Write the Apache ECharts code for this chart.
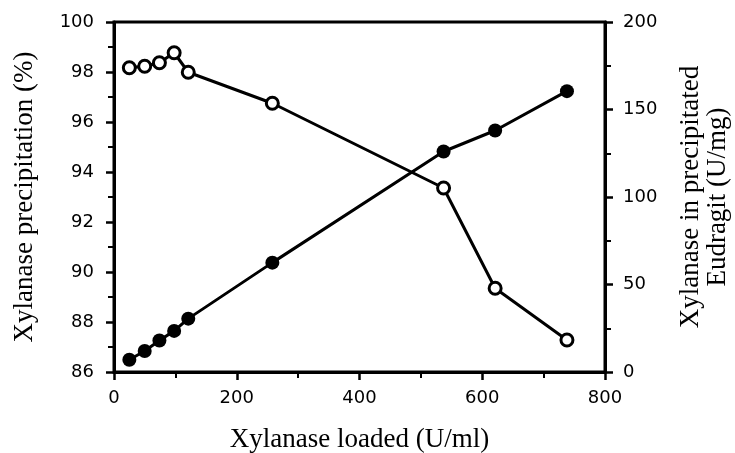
<!DOCTYPE html>
<html>
<head>
<meta charset="utf-8">
<script src="https://cdn.jsdelivr.net/npm/echarts@6/dist/echarts.min.js"></script>
<style>
  html, body { margin: 0; padding: 0; background: #fff; }
  #chart { width: 735px; height: 453px; }
</style>
</head>
<body>
<div id="chart"></div>
<script>
// xylanase loaded (U/ml)
const loaded = [25, 50, 74, 98, 121, 258, 537, 621, 738]
// open circles, left axis (%)
const precipitation = [98.17, 98.23, 98.37, 98.77, 97.99, 96.75, 93.36, 89.35, 87.28]
// filled circles, right axis (U/mg)
const activity = [7, 12, 18, 23.5, 30.5, 62.5, 126, 138, 160.5]

const chart = echarts.init(document.getElementById('chart'))

const tickFont = { color: '#000', fontSize: 18, fontFamily: 'DejaVu Sans' }
const titleFont = { color: '#000', fontSize: 27, fontFamily: 'Liberation Serif' }
const axisLine = { show: true, lineStyle: { color: '#000', width: 3 } }
const tick = { length: 8, lineStyle: { color: '#000', width: 2.5 } }
const minor = { show: true, splitNumber: 2, length: 6, lineStyle: { color: '#000', width: 2 } }

const option = {
  animation: false,
  backgroundColor: '#fff',
  grid: {
    left: 114, right: 130, top: 22, bottom: 81,
    outerBoundsMode: 'none',
    show: true, borderColor: '#000', borderWidth: 3
  },
  xAxis: {
    type: 'value',
    min: 0, max: 800, interval: 200,
    name: 'Xylanase loaded (U/ml)',
    nameLocation: 'middle',
    nameGap: 54,
    nameTextStyle: titleFont,
    axisLine: axisLine,
    axisTick: tick,
    minorTick: minor,
    axisLabel: Object.assign({ margin: 17 }, tickFont),
    splitLine: { show: false }
  },
  yAxis: [
    {
      type: 'value',
      min: 86, max: 100, interval: 2,
      name: 'Xylanase precipitation (%)',
      nameLocation: 'middle',
      nameRotate: 90,
      nameGap: 76,
      nameTextStyle: titleFont,
      axisLine: axisLine,
      axisTick: tick,
      minorTick: minor,
      axisLabel: Object.assign({ margin: 20 }, tickFont),
      splitLine: { show: false }
    },
    {
      type: 'value',
      position: 'right',
      min: 0, max: 200, interval: 50,
      name: 'Xylanase in precipitated\nEudragit (U/mg)',
      nameLocation: 'middle',
      nameRotate: 90,
      nameGap: 72,
      nameTextStyle: Object.assign({ lineHeight: 27, align: 'center' }, titleFont),
      axisLine: axisLine,
      axisTick: tick,
      minorTick: minor,
      axisLabel: Object.assign({ margin: 18 }, tickFont),
      splitLine: { show: false }
    }
  ],
  series: [
    {
      name: 'precipitation',
      type: 'line',
      yAxisIndex: 0,
      data: loaded.map((x, i) => [x, precipitation[i]]),
      symbol: 'circle',
      symbolSize: 12,
      lineStyle: { color: '#000', width: 3 },
      itemStyle: { color: '#fff', borderColor: '#000', borderWidth: 3 },
      z: 3
    },
    {
      name: 'activity',
      type: 'line',
      yAxisIndex: 1,
      data: loaded.map((x, i) => [x, activity[i]]),
      symbol: 'circle',
      symbolSize: 14,
      lineStyle: { color: '#000', width: 3 },
      itemStyle: { color: '#000', borderColor: '#000', borderWidth: 0 },
      z: 2
    }
  ]
}

chart.setOption(option)
</script>
</body>
</html>
